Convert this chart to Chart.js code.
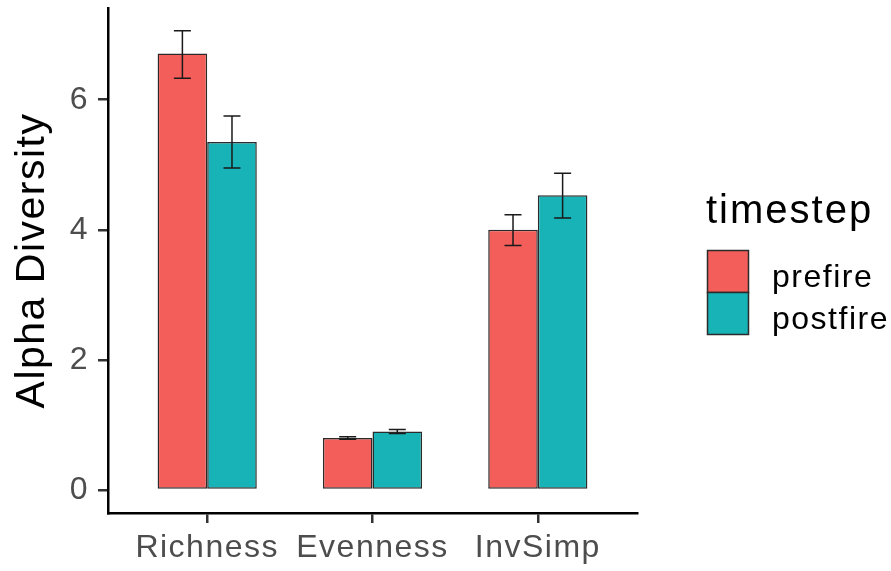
<!DOCTYPE html>
<html>
<head>
<meta charset="utf-8">
<script src="https://cdn.jsdelivr.net/npm/chart.js@4.4.1/dist/chart.umd.min.js"></script>
<style>
  html,body{margin:0;padding:0;background:#fff;}
  #wrap{width:891px;height:571px;}
</style>
</head>
<body>
<div id="wrap"><canvas id="chart" width="891" height="571"></canvas></div>
<script>
// values
var categories=["Richness","Evenness","InvSimp"]
var seriesNames=["prefire","postfire"]
var prefire=[6.71,0.80,4.00]
var postfire=[5.35,0.90,4.53]
var prefireLow=[6.33,0.78,3.76]
var prefireHigh=[7.06,0.82,4.23]
var postfireLow=[4.95,0.87,4.18]
var postfireHigh=[5.75,0.93,4.87]
var yTicks=[0,2,4,6]

var color_fill=["#F35E5A","#17B3B7"]
var border_col="#2B2B2B"
var text_grey="#4D4D4D"
var spacing="1.5px"

Chart.defaults.font.family="'Liberation Sans', Arial, sans-serif"
Chart.defaults.color=text_grey

function toPoints(vals){
    return vals.map(function(v,i){return {x:i+1,y:v}})
}

//spacing so the text is as wide as in the picture
const spacingPlugin={
    id:'spacing',
    beforeUpdate:(chart)=>{chart.ctx.letterSpacing=spacing},
    beforeDraw:(chart)=>{chart.ctx.letterSpacing=spacing}
}

//error bars on top of each bar
const errorBars={
    id:'errorBars',
    afterDatasetsDraw:(chart)=>{
        const ctx=chart.ctx
        const y=chart.scales.y
        const lows=[prefireLow,postfireLow]
        const highs=[prefireHigh,postfireHigh]
        ctx.save()
        ctx.strokeStyle="#1a1a1a"
        ctx.lineWidth=1.5
        chart.data.datasets.forEach(function(ds,d){
            chart.getDatasetMeta(d).data.forEach(function(bar,i){
                var x=bar.x
                var y1=y.getPixelForValue(lows[d][i])
                var y2=y.getPixelForValue(highs[d][i])
                ctx.beginPath()
                ctx.moveTo(x,y1);ctx.lineTo(x,y2)
                ctx.moveTo(x-8.5,y1);ctx.lineTo(x+8.5,y1)
                ctx.moveTo(x-8.5,y2);ctx.lineTo(x+8.5,y2)
                ctx.stroke()
            })
        })
        ctx.restore()
    }
}

//legend on the right like ggplot
const sideLegend={
    id:'sideLegend',
    afterDraw:(chart)=>{
        const ctx=chart.ctx
        ctx.save()
        ctx.letterSpacing="2px"
        ctx.fillStyle="#000"
        ctx.textBaseline="alphabetic"
        ctx.font="40px 'Liberation Sans', Arial, sans-serif"
        ctx.fillText("timestep",706,223)
        var boxY=[250,292]
        ctx.letterSpacing=spacing
        ctx.font="32px 'Liberation Sans', Arial, sans-serif"
        chart.data.datasets.forEach(function(ds,d){
            ctx.fillStyle=ds.backgroundColor
            ctx.fillRect(707,boxY[d],41,42)
            ctx.strokeStyle=border_col
            ctx.lineWidth=1.5
            ctx.strokeRect(707.5,boxY[d]+0.5,41,42)
            ctx.fillStyle="#000"
            ctx.fillText(ds.label,772,boxY[d]+37)
        })
        ctx.restore()
    }
}

var config={
    type:'bar',
    data:{
        datasets:[{
            label:seriesNames[0],
            data:toPoints(prefire),
            backgroundColor:color_fill[0],
            borderColor:border_col,
            borderWidth:1.5,
            borderSkipped:false
        },{
            label:seriesNames[1],
            data:toPoints(postfire),
            backgroundColor:color_fill[1],
            borderColor:border_col,
            borderWidth:1.5,
            borderSkipped:false
        }]
    },
    options:{
        responsive:false,
        animation:false,
        categoryPercentage:0.6,
        barPercentage:1,
        layout:{padding:{left:0,top:8,right:254,bottom:0}},
        plugins:{
            legend:{display:false},
            tooltip:{enabled:false}
        },
        scales:{
            x:{
                type:'linear',
                min:0.4,
                max:3.6,
                offset:false,
                afterBuildTicks:(scale)=>{scale.ticks=categories.map((c,i)=>({value:i+1}))},
                afterFit:(scale)=>{scale.height=58;scale.paddingLeft=0;scale.paddingRight=0},
                ticks:{
                    color:text_grey,
                    font:{size:32},
                    padding:6,
                    maxRotation:0,
                    autoSkip:false,
                    callback:(v)=>categories[v-1]
                },
                grid:{offset:false,drawOnChartArea:false,drawTicks:true,tickLength:10,color:"#333",lineWidth:2.5},
                border:{display:true,color:"#000",width:2.5}
            },
            y:{
                min:-0.353,
                max:7.41,
                afterBuildTicks:(scale)=>{scale.ticks=yTicks.map(v=>({value:v}))},
                afterFit:(scale)=>{scale.width=108;scale.paddingTop=0;scale.paddingBottom=0},
                ticks:{color:text_grey,font:{size:32},padding:9},
                grid:{drawOnChartArea:false,drawTicks:true,tickLength:10,color:"#333",lineWidth:2.5},
                border:{display:true,color:"#000",width:2.5},
                title:{display:true,text:"Alpha Diversity",color:"#000",font:{size:41},padding:{top:8,bottom:0}}
            }
        }
    },
    plugins:[spacingPlugin,errorBars,sideLegend]
}

var chart=new Chart(document.getElementById("chart"),config)
</script>
</body>
</html>
